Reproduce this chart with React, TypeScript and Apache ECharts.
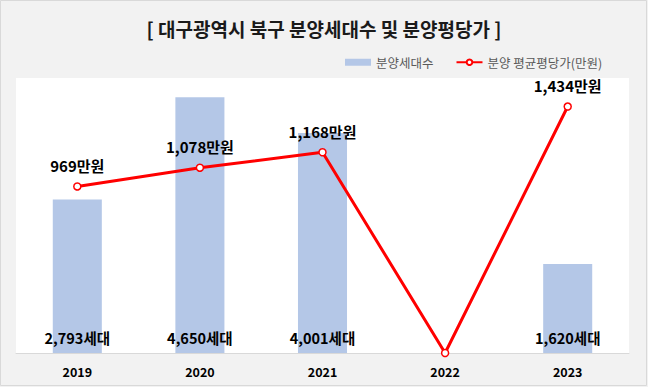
import React, { useEffect, useRef } from "react";
import * as echarts from "echarts";

const years = ["2019", "2020", "2021", "2022", "2023"];
const households = [2793, 4650, 4001, 0, 1620];
const pricePerPyeong = [969, 1078, 1168, 0, 1434];

const FONT = "'Noto Sans CJK KR', 'Noto Sans', sans-serif";
const fmt = (v: number) => v.toLocaleString("en-US");

export default function App() {
  const ref = useRef<HTMLDivElement>(null);
  useEffect(() => {
    if (!ref.current) return;
    const chart = echarts.init(ref.current, undefined, { renderer: "svg" });
    chart.setOption({
      animation: false,
      backgroundColor: "#f2f2f2",
      textStyle: { fontFamily: FONT },
      graphic: [
        {
          type: "rect",
          shape: { x: 0.5, y: 0.5, width: 646, height: 385 },
          style: { fill: "none", stroke: "#d9d9d9", lineWidth: 1 },
          silent: true,
        },
      ],
      title: {
        text: "[ 대구광역시 북구 분양세대수 및 분양평당가 ]",
        left: "center",
        top: 14,
        textStyle: { fontFamily: FONT, fontSize: 19, fontWeight: "bold", color: "#1a1a1a" },
      },
      legend: {
        left: 340,
        top: 51,
        itemGap: 22,
        itemWidth: 26,
        itemHeight: 7,
        textStyle: { fontFamily: FONT, fontSize: 12.5, color: "#595959" },
        data: [
          { name: "분양세대수", icon: "rect" },
          { name: "분양 평균평당가(만원)" },
        ],
      },
      grid: {
        left: 16,
        right: 19,
        top: 78,
        bottom: 34,
        show: true,
        backgroundColor: "#ffffff",
        borderWidth: 0,
      },
      xAxis: {
        type: "category",
        data: years,
        axisLine: { lineStyle: { color: "#d9d9d9", width: 1 } },
        axisTick: { show: false },
        axisLabel: { fontFamily: FONT, fontSize: 12.5, fontWeight: "bold", color: "#000", margin: 12 },
      },
      yAxis: [
        { type: "value", min: 0, max: 5000, show: false, splitLine: { show: false } },
        { type: "value", min: 0, max: 1600, show: false, splitLine: { show: false } },
      ],
      series: [
        {
          name: "분양세대수",
          type: "bar",
          yAxisIndex: 0,
          barWidth: "40%",
          data: households,
          itemStyle: { color: "#b4c7e7" },
          label: {
            show: true,
            position: "insideBottom",
            distance: 8,
            fontFamily: FONT,
            fontSize: 14.5,
            fontWeight: "bold",
            color: "#000",
            formatter: (p: any) => (p.value ? fmt(p.value) + "세대" : ""),
          },
        },
        {
          name: "분양 평균평당가(만원)",
          type: "line",
          yAxisIndex: 1,
          data: pricePerPyeong,
          lineStyle: { color: "#ff0000", width: 3 },
          symbol: "circle",
          symbolSize: 7,
          itemStyle: { color: "#ffffff", borderColor: "#ff0000", borderWidth: 1.5 },
          label: {
            show: true,
            position: "top",
            distance: 9,
            fontFamily: FONT,
            fontSize: 15,
            fontWeight: "bold",
            color: "#000",
            formatter: (p: any) => (p.value ? fmt(p.value) + "만원" : ""),
          },
          z: 5,
        },
      ],
    });
    return () => chart.dispose();
  }, []);
  return (
    <div
      ref={ref}
      style={{ position: "fixed", left: 0, top: 0, width: 648, height: 387 }}
    />
  );
}
